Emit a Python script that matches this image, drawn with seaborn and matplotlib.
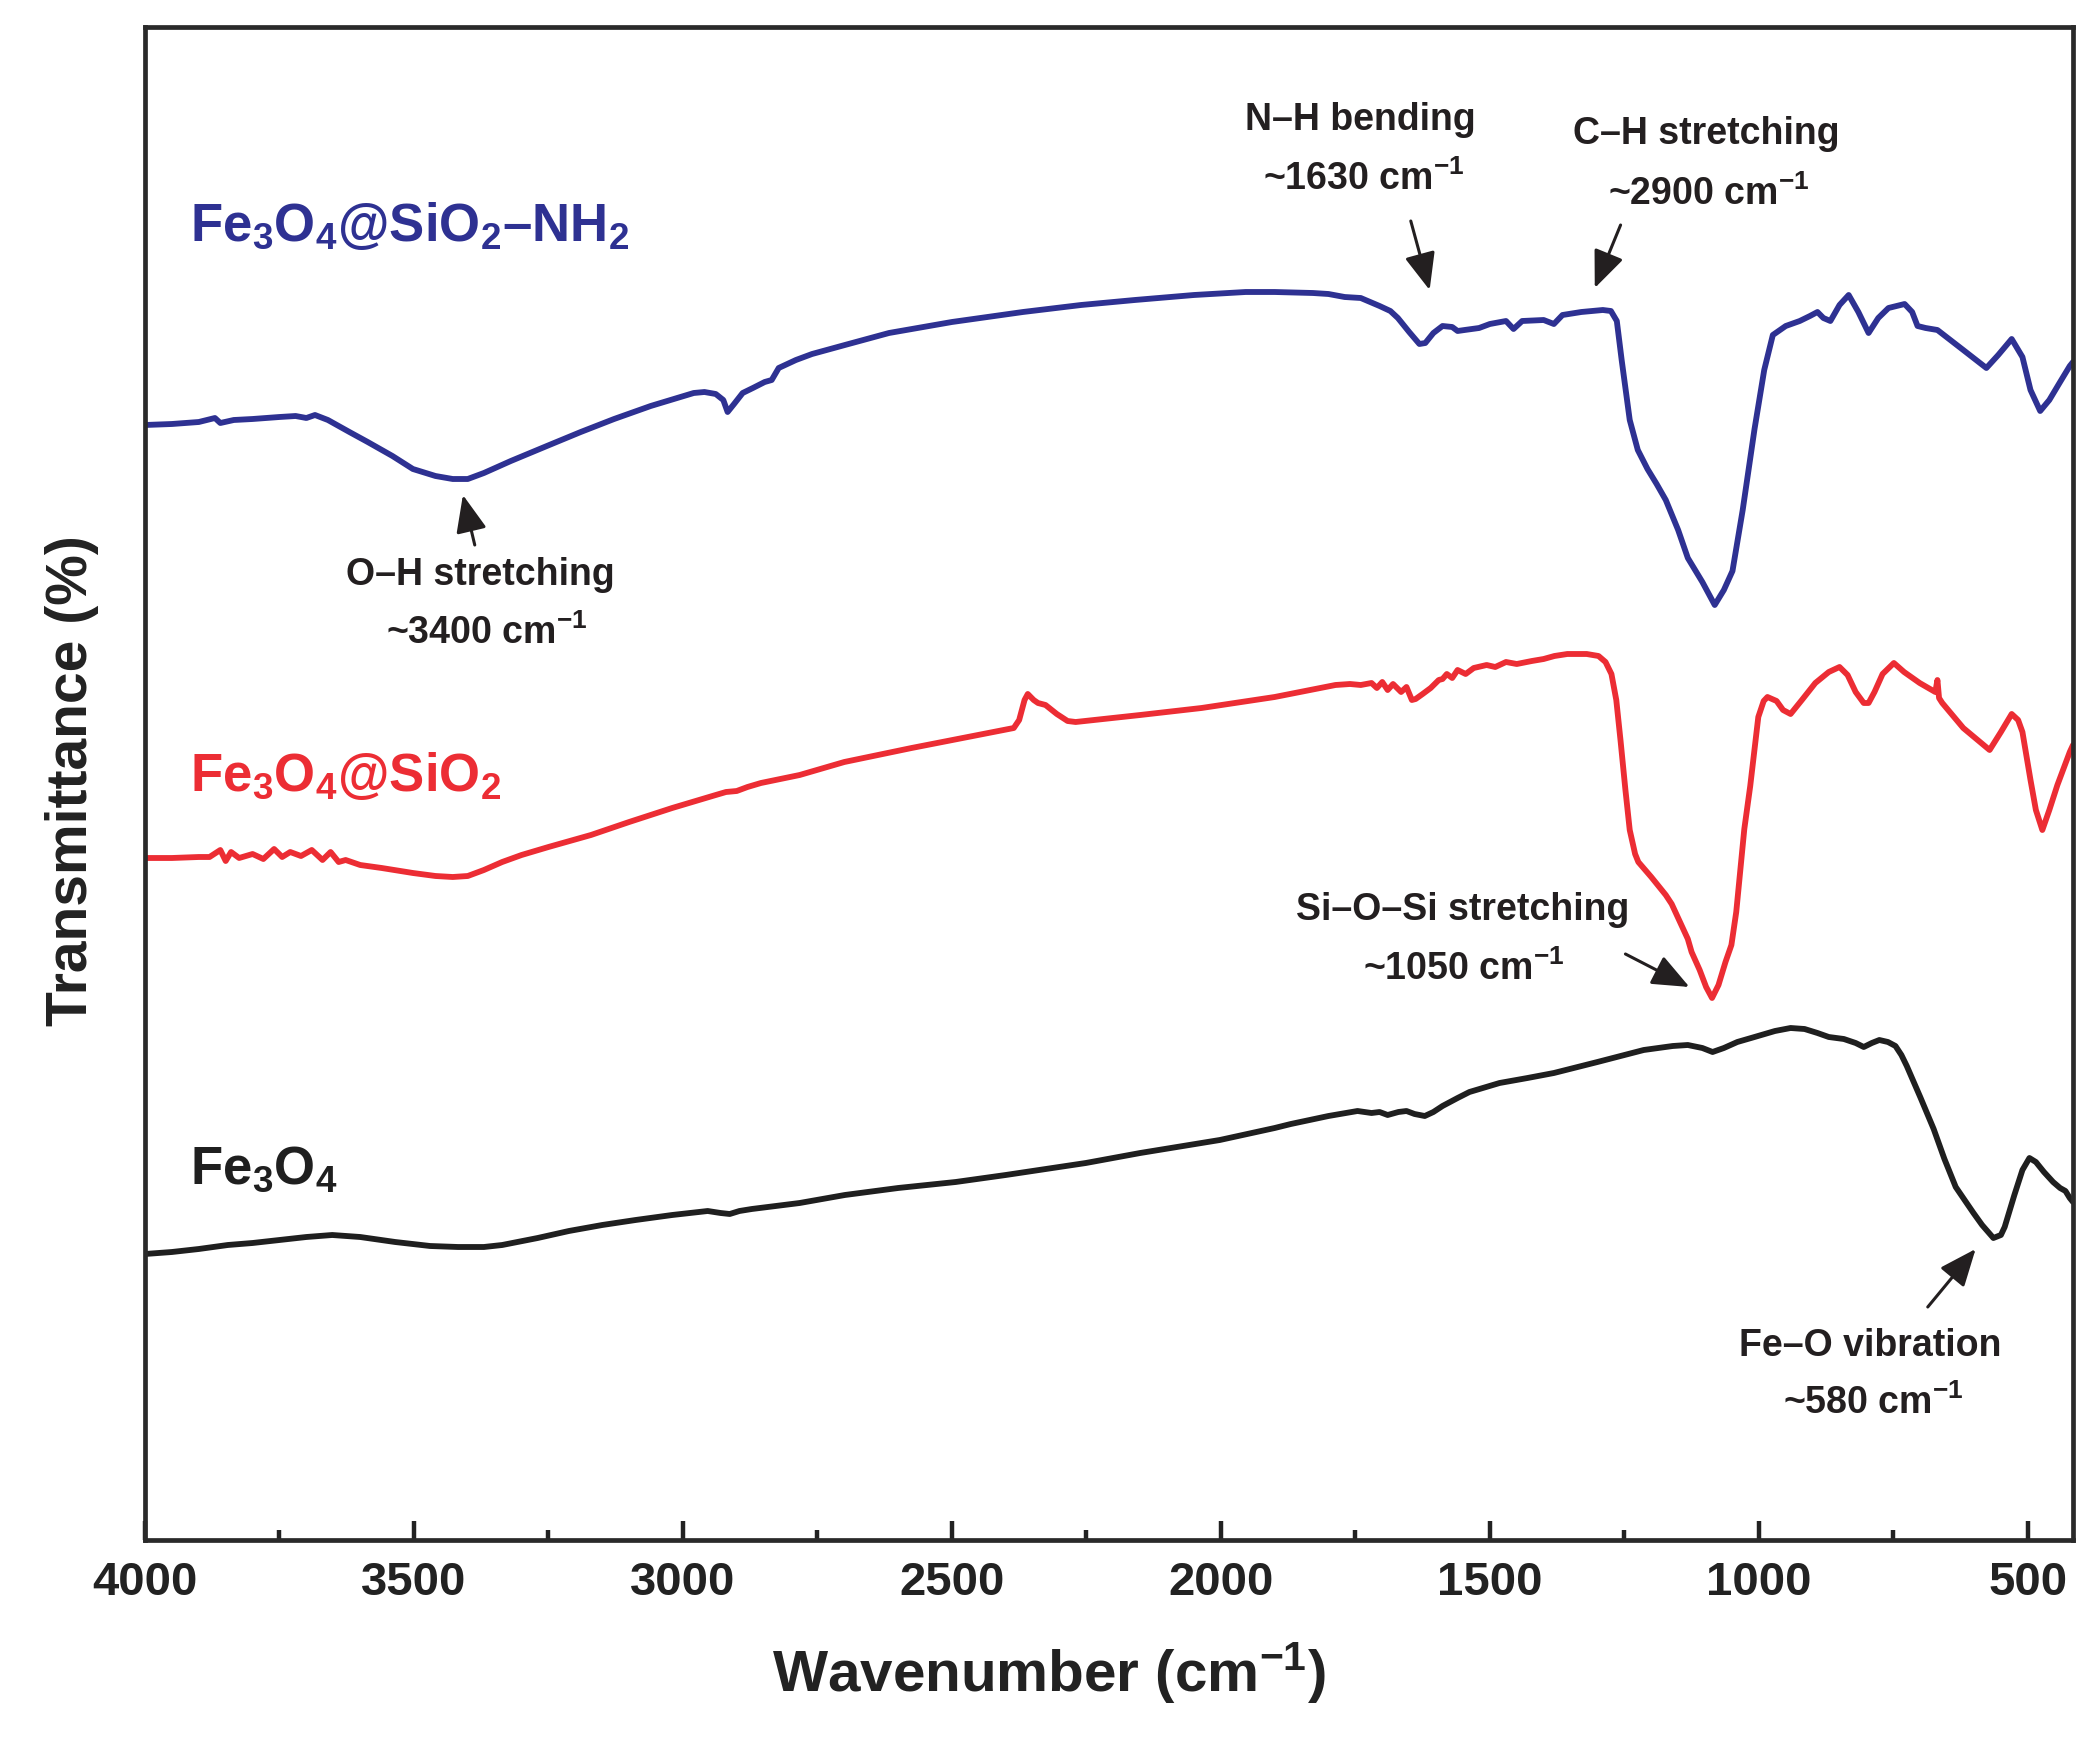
import numpy as np
import pandas as pd
import matplotlib
matplotlib.use("Agg")
import matplotlib.pyplot as plt
import seaborn as sns
from matplotlib.ticker import MultipleLocator

# ---------------- data (arbitrary stacked transmittance units) ----------------
wn_fe3o4 = [4000, 3950, 3900, 3846, 3800, 3750, 3700, 3652, 3600, 3535, 3470, 3418, 3370, 3336, 3270,
            3212, 3150, 3088, 3020, 2954, 2930, 2913, 2895, 2872, 2783, 2699, 2600, 2493, 2400, 2251,
            2150, 2002, 1900, 1870, 1800, 1746, 1720, 1705, 1690, 1670, 1655, 1640, 1621, 1605, 1588,
            1560, 1538, 1482, 1430, 1381, 1300, 1214, 1160, 1132, 1105, 1086, 1065, 1040, 1008, 970,
            941, 915, 891, 870, 842, 820, 805, 790, 776, 760, 746, 735, 725, 700, 675, 655, 634, 615,
            601, 585, 564, 550, 543, 525, 510, 497, 485, 470, 453, 440, 430, 422, 416]
t_fe3o4 = [286, 288, 291, 295, 297, 300, 303, 305, 303, 298, 294, 293, 293, 295, 302,
           309, 315, 320, 325, 329, 327, 326, 329, 331, 337, 345, 352, 358, 365, 377,
           387, 400, 412, 416, 424, 429, 427, 428, 425, 428, 429, 426, 424, 428, 434,
           442, 448, 457, 462, 467, 478, 490, 494, 495, 492, 488, 492, 498, 503, 509,
           512, 511, 507, 503, 501, 497, 493, 497, 500, 498, 494, 485, 474, 443, 411, 381, 353, 338,
           327, 315, 302, 305, 313, 345, 370, 382, 378, 368, 358, 352, 349, 342, 338]

wn_sio2 = [4000, 3950, 3900, 3880, 3860, 3850, 3840, 3825, 3800, 3780, 3760, 3745, 3730, 3710, 3690,
           3670, 3655, 3640, 3627, 3600, 3560, 3502, 3460, 3428, 3400, 3370, 3336, 3300, 3250, 3171,
           3100, 3020, 2939, 2920, 2900, 2880, 2855, 2783, 2700, 2575, 2480, 2385, 2375, 2365, 2359,
           2348, 2340, 2326, 2305, 2285, 2270, 2150, 2036, 1900, 1787, 1760, 1740, 1720, 1710, 1700,
           1690, 1680, 1665, 1655, 1645, 1638, 1625, 1610, 1595, 1588, 1580, 1570, 1560, 1545, 1530,
           1506, 1490, 1470, 1450, 1422, 1400, 1380, 1356, 1320, 1298, 1285, 1274, 1265, 1257, 1248,
           1240, 1230, 1224, 1200, 1173, 1162, 1150, 1132, 1125, 1110, 1098, 1087, 1075, 1062, 1051,
           1042, 1027, 1016, 1001, 991, 984, 967, 955, 941, 920, 895, 870, 850, 835, 820, 805, 796,
           785, 770, 749, 730, 701, 685, 672, 668, 665, 659, 620, 571, 550, 530, 518, 510, 495, 485,
           473, 460, 445, 422, 416]
t_sio2 = [682, 682, 683, 683, 690, 679, 688, 682, 686, 681, 691, 683, 688, 684, 690,
          680, 688, 678, 680, 675, 672, 667, 664, 663, 664, 670, 678, 685, 693, 705,
          718, 732, 745, 748, 749, 753, 757, 765, 778, 792, 802, 812, 820, 840, 846,
          840, 837, 835, 826, 819, 818, 825, 832, 843, 855, 856, 855, 857, 852, 858,
          850, 856, 848, 853, 840, 841, 846, 852, 860, 861, 866, 862, 870, 866, 872,
          875, 873, 878, 876, 879, 881, 884, 886, 886, 884, 878, 866, 840, 799, 750,
          710, 686, 678, 663, 645, 636, 622, 601, 588, 570, 553, 542, 555, 578, 595,
          628, 711, 754, 823, 839, 843, 839, 830, 826, 840, 857, 868, 873, 865, 848, 837, 837,
          848, 866, 877, 868, 857, 852, 848, 860, 842, 837, 812, 790, 808, 826, 820, 808, 760, 730,
          710, 730, 755, 788, 795]

wn_nh2 = [4000, 3950, 3900, 3870, 3860, 3835, 3800, 3750, 3720, 3700, 3684, 3660, 3620, 3586, 3540,
          3502, 3460, 3428, 3400, 3370, 3320, 3253, 3190, 3128, 3060, 2980, 2960, 2939, 2925, 2917,
          2905, 2889, 2870, 2848, 2835, 2822, 2790, 2760, 2699, 2617, 2500, 2368, 2260, 2160, 2050,
          1954, 1900, 1829, 1800, 1770, 1740, 1705, 1685, 1671, 1650, 1631, 1620, 1605, 1588, 1570,
          1560, 1547, 1520, 1500, 1470, 1456, 1440, 1400, 1381, 1365, 1330, 1290, 1275, 1264, 1255,
          1240, 1225, 1207, 1190, 1173, 1150, 1132, 1105, 1082, 1065, 1049, 1030, 1008, 990, 974,
          950, 924, 905, 891, 880, 867, 850, 833, 815, 796, 778, 759, 729, 715, 705, 690, 668, 620,
          577, 555, 530, 510, 495, 477, 460, 440, 422, 416]
t_nh2 = [1115, 1116, 1118, 1122, 1117, 1120, 1121, 1123, 1124, 1122, 1125, 1120, 1108, 1098, 1084,
         1071, 1064, 1061, 1061, 1067, 1079, 1094, 1108, 1121, 1134, 1147, 1148, 1146, 1140, 1128,
         1136, 1147, 1152, 1158, 1160, 1172, 1180, 1186, 1195, 1207, 1218, 1228, 1235, 1240, 1245,
         1248, 1248, 1247, 1246, 1243, 1242, 1234, 1229, 1222, 1208, 1196, 1197, 1207, 1214, 1213,
         1209, 1210, 1212, 1216, 1219, 1211, 1219, 1220, 1216, 1225, 1228, 1230, 1229, 1219, 1180,
         1120, 1090, 1071, 1056, 1040, 1010, 982, 958, 935, 950, 969, 1030, 1111, 1170, 1205,
         1214, 1219, 1224, 1228, 1222, 1219, 1235, 1245, 1228, 1207, 1222, 1232, 1236, 1228, 1214, 1212, 1210, 1190,
         1172, 1185, 1201, 1183, 1150, 1129, 1140, 1158, 1174, 1178]

series_names = ["Fe3O4", "Fe3O4@SiO2", "Fe3O4@SiO2-NH2"]
series_colors = ["#1f1f1f", "#ec2d34", "#2e3192"]

# ---------------- style ----------------
sns.set_theme(style="white")
plt.rcParams["font.family"] = ["Liberation Sans", "DejaVu Sans"]
plt.rcParams["font.weight"] = "bold"
plt.rcParams["axes.labelweight"] = "bold"
plt.rcParams["mathtext.fontset"] = "custom"
plt.rcParams["mathtext.rm"] = "Liberation Sans:bold"
plt.rcParams["mathtext.bf"] = "Liberation Sans:bold"
plt.rcParams["mathtext.it"] = "Liberation Sans:bold:italic"
plt.rcParams["mathtext.default"] = "regular"

W, H = 2098, 1747
fig = plt.figure(figsize=(W / 100, H / 100), dpi=100)
fig.patch.set_facecolor("white")
ax = fig.add_axes([145 / W, 1 - 1540 / H, (2073 - 145) / W, (1540 - 27) / H])

df = pd.concat([
    pd.DataFrame({"wavenumber": wn_fe3o4, "transmittance": t_fe3o4, "sample": series_names[0]}),
    pd.DataFrame({"wavenumber": wn_sio2, "transmittance": t_sio2, "sample": series_names[1]}),
    pd.DataFrame({"wavenumber": wn_nh2, "transmittance": t_nh2, "sample": series_names[2]}),
], ignore_index=True)

sns.lineplot(data=df, x="wavenumber", y="transmittance", hue="sample",
             palette=dict(zip(series_names, series_colors)), estimator=None,
             linewidth=4.2, legend=False, ax=ax)
for ln in ax.get_lines():
    ln.set_solid_joinstyle("round")
    ln.set_solid_capstyle("round")

ax.set_xlim(4000, 416)
ax.set_ylim(0, 1513)
ax.xaxis.set_major_locator(MultipleLocator(500))
ax.xaxis.set_minor_locator(MultipleLocator(250))
ax.set_yticks([])
ax.tick_params(axis="x", which="major", direction="in", bottom=True, top=False,
               length=13.5, width=3.2, pad=15, labelsize=34, color="#222222", labelcolor="#222222")
ax.tick_params(axis="x", which="minor", direction="in", bottom=True, top=False,
               length=7.5, width=3.2, color="#222222")
for s in ax.spines.values():
    s.set_visible(True)
    s.set_linewidth(3.4)
    s.set_color("#2a2a2a")

ax.set_xlabel("Wavenumber (cm$^{-1}$)", fontsize=42, color="#222222")
ax.xaxis.set_label_coords(0.469, -0.066)
ax.set_ylabel("Transmittance (%)", fontsize=41, color="#222222")
ax.yaxis.set_label_coords(-0.024, 0.502)

# series labels
label_kw = dict(ha="left", va="baseline", fontsize=38)
ax.text(3916, 1299, r"Fe$_3$O$_4$@SiO$_2$–NH$_2$", color=series_colors[2], **label_kw)
ax.text(3916, 749, r"Fe$_3$O$_4$@SiO$_2$", color=series_colors[1], **label_kw)
ax.text(3916, 356, r"Fe$_3$O$_4$", color=series_colors[0], **label_kw)

# annotations
tc = "#231f20"
anno_kw = dict(ha="center", va="baseline", fontsize=27, color=tc)
arrow_kw = dict(arrowstyle="-|>,head_length=0.6,head_width=0.25", mutation_scale=38,
                lw=2.2, color=tc, shrinkA=0, shrinkB=0)

annotations = [
    # (line1, x1, y1, line2, x2, y2, tail, head)
    ("O–H stretching", 3376, 955, "~3400 cm$^{-1}$", 3364, 896, (3387, 995), (3409, 1045)),
    ("N–H bending", 1740, 1410, "~1630 cm$^{-1}$", 1735, 1350, (1647, 1319), (1612, 1250)),
    ("C–H stretching", 1097, 1396, "~2900 cm$^{-1}$", 1093, 1335, (1257, 1315), (1305, 1252)),
    ("Si–O–Si stretching", 1551, 620, "~1050 cm$^{-1}$", 1549, 560, (1248, 586), (1129, 553)),
    ("Fe–O vibration", 792, 184, "~580 cm$^{-1}$", 787, 126, (686, 233), (597, 291)),
]
for l1, x1, y1, l2, x2, y2, tail, head in annotations:
    ax.text(x1, y1, l1, **anno_kw)
    ax.text(x2, y2, l2, **anno_kw)
    ax.annotate("", xy=head, xytext=tail, arrowprops=arrow_kw)

fig.savefig("out.png", dpi=100, facecolor="white")
